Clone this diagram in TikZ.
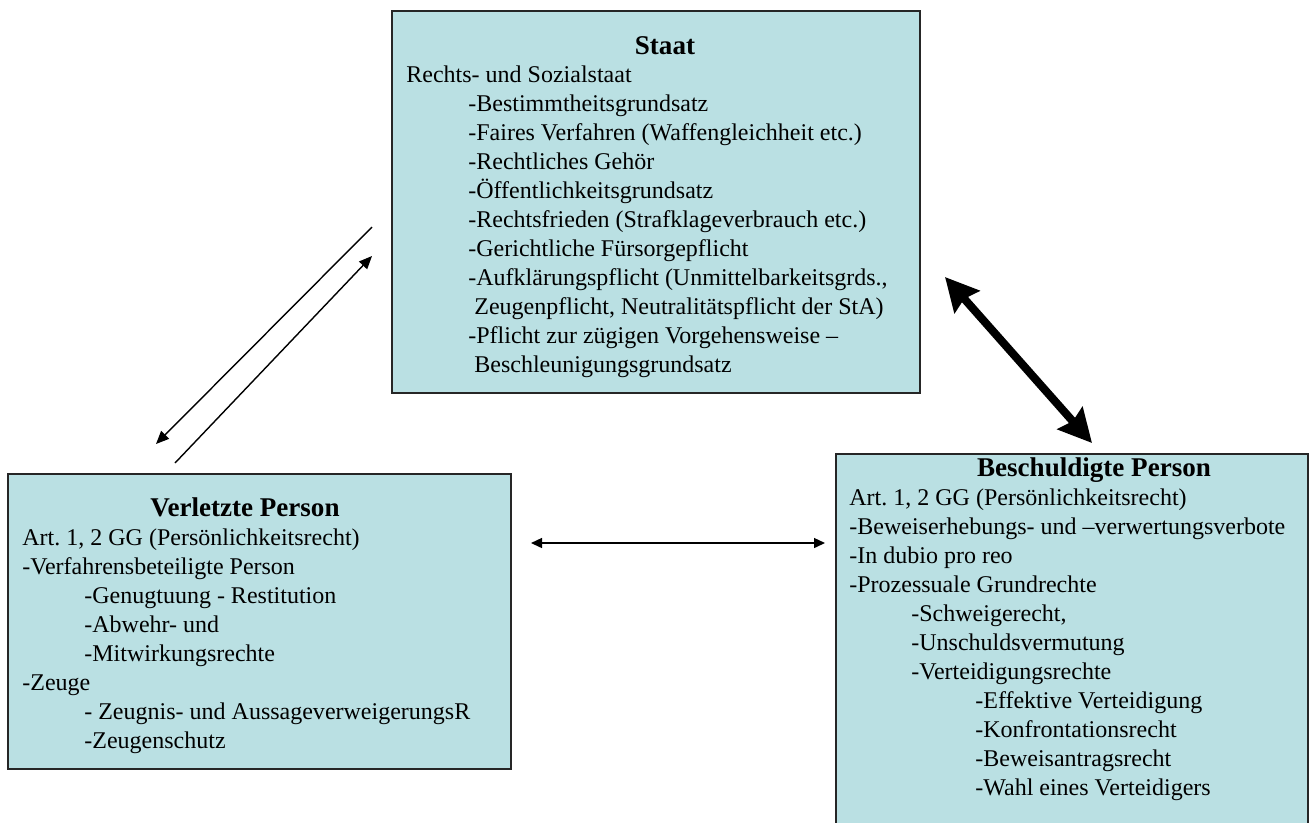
\documentclass[tikz,border=0pt]{standalone}
\usepackage{fontspec}
\setmainfont{Liberation Serif}
\usetikzlibrary{arrows.meta}
\definecolor{panelblue}{RGB}{186,224,227}
\newcommand{\einr}{\hspace*{1.24cm}}
\newcommand{\einrz}{\hspace*{2.52cm}}

\begin{document}
\begin{tikzpicture}[
    panel/.style={
        rectangle,
        draw=black!85,
        fill=panelblue,
        line width=0.8pt,
        inner sep=0pt
    },
    titel/.style={
        anchor=base,
        inner sep=0pt,
        font=\fontsize{15.4pt}{18pt}\selectfont\bfseries
    },
    body/.style={
        anchor=north west,
        align=left,
        inner sep=0pt,
        font=\fontsize{13.66pt}{16.5pt}\selectfont\frenchspacing
    },
    link/.style={{Triangle[length=0.22cm,width=0.2cm]}-{Triangle[length=0.22cm,width=0.2cm]}, line width=0.8pt},
    single/.style={-{Triangle[length=0.26cm,width=0.22cm]}, line width=0.8pt},
    heavy/.style={{Stealth[length=0.66cm,width=0.66cm,inset=0.08cm]}-{Stealth[length=0.66cm,width=0.66cm,inset=0.08cm]}, line width=4.6pt}
]

\useasboundingbox (0,0) rectangle (26.18,-16.44);
\clip (0,0) rectangle (26.18,-16.44);

\node[panel, minimum width=10.56cm, minimum height=7.64cm] (staat) at (13.12,-4.04) {};
\node[panel, minimum width=10.06cm, minimum height=5.9cm] (verl) at (5.19,-12.43) {};
\node[panel, minimum width=9.44cm, minimum height=7.72cm] (besch) at (21.44,-12.94) {};

\node[titel] (staatT) at (13.3,-1.08) {Staat};
\node[body] (staatB) at (8.12,-1.234) {\strut Rechts- und Sozialstaat\\
\einr-Bestimmtheitsgrundsatz\\
\einr-Faires Verfahren (Waffengleichheit etc.)\\
\einr-Rechtliches Gehör\\
\einr-Öffentlichkeitsgrundsatz\\
\einr-Rechtsfrieden (Strafklageverbrauch etc.)\\
\einr-Gerichtliche Fürsorgepflicht\\
\einr-Aufklärungspflicht (Unmittelbarkeitsgrds.,\\
\einr\ Zeugenpflicht, Neutralitätspflicht der StA)\\
\einr-Pflicht zur zügigen Vorgehensweise –\\
\einr\ Beschleunigungsgrundsatz};

\node[titel] (verlT) at (4.9,-10.32) {Verletzte Person};
\node[body] (verlB) at (0.44,-10.494) {\strut Art. 1, 2 GG (Persönlichkeitsrecht)\\
-Verfahrensbeteiligte Person\\
\einr-Genugtuung - Restitution\\
\einr-Abwehr- und\\
\einr-Mitwirkungsrechte\\
-Zeuge\\
\einr- Zeugnis- und AussageverweigerungsR\\
\einr-Zeugenschutz};

\node[titel] (beschT) at (21.88,-9.52) {Beschuldigte Person};
\node[body] (beschB) at (16.98,-9.694) {\strut Art. 1, 2 GG (Persönlichkeitsrecht)\\
-Beweiserhebungs- und –verwertungsverbote\\
-In dubio pro reo\\
-Prozessuale Grundrechte\\
\einr-Schweigerecht,\\
\einr-Unschuldsvermutung\\
\einr-Verteidigungsrechte\\
\einrz-Effektive Verteidigung\\
\einrz-Konfrontationsrecht\\
\einrz-Beweisantragsrecht\\
\einrz-Wahl eines Verteidigers};

\coordinate (sv1) at (7.44,-4.54);
\coordinate (vs1) at (3.12,-8.88);
\coordinate (vs2) at (3.50,-9.26);
\coordinate (sv2) at (7.44,-5.12);
\coordinate (sb1) at (18.9,-5.54);
\coordinate (bs1) at (21.84,-8.86);
\coordinate (vb1) at (10.62,-10.86);
\coordinate (bv1) at (16.5,-10.86);

\draw[single] (sv1) -- (vs1);
\draw[single] (vs2) -- (sv2);
\draw[heavy] (sb1) -- (bs1);
\draw[link] (vb1) -- (bv1);

\end{tikzpicture}
\end{document}
